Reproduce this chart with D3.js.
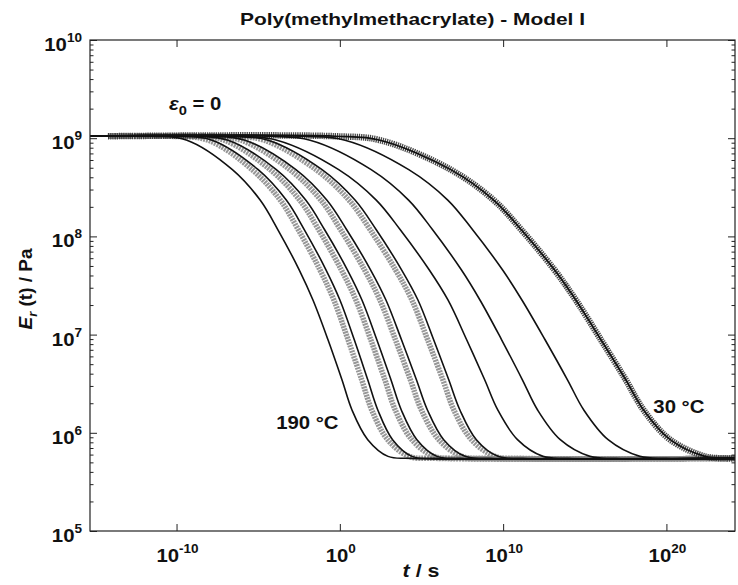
<!DOCTYPE html>
<html>
<head>
<meta charset="utf-8">
<script src="https://cdn.jsdelivr.net/npm/d3@7"></script>
<style>
  body { margin: 0; background: #fff; }
  svg { display: block; font-family: "Liberation Sans", Arial, sans-serif; }
</style>
</head>
<body>
<svg id="chart" width="738" height="585"></svg>
<script>
// ---------------- DATA (log10 values) ----------------
const titleText = "Poly(methylmethacrylate) - Model I";
const xTickExps = [-10, 0, 10, 20];
const yTickExps = [5, 6, 7, 8, 9, 10];
const xDomainExp = [-15.3, 24.2];
const yDomainExp = [5, 10];

// log10(E / Pa) levels at which every curve was read
const levelsLogE = [9.02, 9.02, 8.98, 8.68, 8.37, 8.07, 7.66, 7.35, 6.95, 6.54, 6.23, 5.93, 5.76, 5.74, 5.74];

// model curves (solid black lines): log10(t / s) at the levels above
const line190 = [-15.3, -11.5, -9.36, -6.58, -4.88, -3.80, -2.49, -1.64, -0.73, 0.13, 0.75, 1.71, 2.95, 4.4, 24.2];
const line170 = [-15.3, -10.1, -7.83, -5.00, -3.28, -2.18, -0.85, 0.01, 0.88, 1.71, 2.33, 3.23, 4.42, 5.9, 24.2];
const line150 = [-15.3, -9.1, -6.85, -3.89, -2.09, -0.94, 0.46, 1.36, 2.26, 3.13, 3.77, 4.72, 5.95, 7.4, 24.2];
const line130 = [-15.3, -8.1, -5.81, -2.69, -0.80, 0.41, 1.88, 2.83, 3.77, 4.69, 5.37, 6.36, 7.67, 9.2, 24.2];
const line110 = [-15.3, -6.8, -4.40, -1.09, 0.93, 2.22, 3.78, 4.79, 5.74, 6.67, 7.36, 8.36, 9.69, 11.2, 24.2];
const line90  = [-15.3, -6.3, -3.85, -0.07, 2.23, 3.69, 5.47, 6.63, 7.76, 8.87, 9.68, 10.88, 12.44, 14.0, 24.2];
const line70  = [-15.3, -4.4, -1.82, 1.92, 4.21, 5.67, 7.44, 8.59, 9.90, 11.18, 12.12, 13.50, 15.32, 16.9, 24.2];
const line50  = [-15.3, -2.4, 0.32, 4.22, 6.61, 8.12, 9.96, 11.16, 12.56, 13.94, 14.95, 16.43, 18.38, 20.0, 24.2];
const line30  = [-15.3, -0.3, 2.46, 6.79, 9.42, 11.10, 13.14, 14.46, 15.98, 17.51, 18.61, 20.23, 22.36, 23.6, 24.2];

// measured data (markers): log10(t / s) at the levels above
const marks170 = [-14.2, -10.4, -8.07, -5.37, -3.65, -2.55, -1.22, -0.36, 0.50, 1.34, 1.96, 2.93, 4.24, 5.9, 24.2];
const marks150 = [-14.2, -9.4, -7.09, -4.26, -2.46, -1.30, 0.09, 0.99, 1.89, 2.76, 3.40, 4.41, 5.77, 7.4, 24.2];
const marks130 = [-14.2, -8.4, -6.05, -3.06, -1.16, 0.04, 1.51, 2.46, 3.40, 4.32, 5.00, 6.06, 7.48, 9.2, 24.2];
const marks110 = [-14.2, -7.0, -4.64, -1.46, 0.56, 1.85, 3.41, 4.42, 5.37, 6.31, 6.99, 8.06, 9.50, 11.2, 24.2];
const marks30  = [-14.2, -0.3, 2.46, 6.79, 9.42, 11.10, 13.14, 14.46, 15.98, 17.51, 18.61, 20.23, 22.36, 23.6, 24.2];

const annotations = [
  { label: "190 °C", logT: -3.9, logE: 6.04 },
  { label: "30 °C", logT: 19.2, logE: 6.20 }
];

// ---------------- CHART ----------------
const M = { left: 90, right: 735, top: 40, bottom: 531 };
const svg = d3.select("#chart");

const x = d3.scaleLog().domain(xDomainExp.map(e => Math.pow(10, e))).range([M.left, M.right]);
const y = d3.scaleLog().domain(yDomainExp.map(e => Math.pow(10, e))).range([M.bottom, M.top]);

svg.append("defs").append("clipPath").attr("id", "plotclip")
  .append("rect").attr("x", M.left).attr("y", M.top)
  .attr("width", M.right - M.left).attr("height", M.bottom - M.top);

const toPts = arr => arr.map((lt, i) => [Math.pow(10, lt), Math.pow(10, levelsLogE[i])]);
const lineGen = d3.line().x(d => x(d[0])).y(d => y(d[1])).curve(d3.curveCatmullRom.alpha(0.5));

const plot = svg.append("g").attr("clip-path", "url(#plotclip)");

// marker bands (dense open symbols)
const graySeries = [marks170, marks150, marks130, marks110];
graySeries.forEach(s => {
  plot.append("path").attr("d", lineGen(toPts(s)))
    .attr("fill", "none").attr("stroke", "#8c8c8c").attr("stroke-width", 5.5)
    .attr("stroke-dasharray", "2 0.9").attr("opacity", 0.9);
});
plot.append("path").attr("d", lineGen(toPts(marks30)))
  .attr("fill", "none").attr("stroke", "#333").attr("stroke-width", 6.5)
  .attr("stroke-dasharray", "1.3 0.9").attr("opacity", 0.9);

// model lines
const blackSeries = [line190, line170, line150, line130, line110, line90, line70, line50, line30];
blackSeries.forEach(s => {
  plot.append("path").attr("d", lineGen(toPts(s)))
    .attr("fill", "none").attr("stroke", "#111").attr("stroke-width", 1.6);
});

// axes
const majorX = xTickExps.map(e => Math.pow(10, e));
const majorY = yTickExps.map(e => Math.pow(10, e));
const minorY = [];
for (let e = yDomainExp[0]; e < yDomainExp[1]; e++) for (let k = 2; k <= 9; k++) minorY.push(k * Math.pow(10, e));

function styleAxis(g) {
  g.select(".domain").remove();
  g.selectAll(".tick line").attr("stroke", "#222").attr("stroke-width", 1);
  g.selectAll(".tick text").remove();
}
svg.append("g").attr("transform", `translate(0,${M.bottom})`)
  .call(d3.axisBottom(x).tickValues(majorX).tickSize(-7).tickFormat("")).call(styleAxis);
svg.append("g").attr("transform", `translate(0,${M.top})`)
  .call(d3.axisTop(x).tickValues(majorX).tickSize(-7).tickFormat("")).call(styleAxis);
svg.append("g").attr("transform", `translate(${M.left},0)`)
  .call(d3.axisLeft(y).tickValues(majorY).tickSize(-7).tickFormat("")).call(styleAxis);
svg.append("g").attr("transform", `translate(${M.left},0)`)
  .call(d3.axisLeft(y).tickValues(minorY).tickSize(-3.5).tickFormat("")).call(styleAxis);
svg.append("g").attr("transform", `translate(${M.right},0)`)
  .call(d3.axisRight(y).tickValues(majorY).tickSize(-7).tickFormat("")).call(styleAxis);
svg.append("g").attr("transform", `translate(${M.right},0)`)
  .call(d3.axisRight(y).tickValues(minorY).tickSize(-3.5).tickFormat("")).call(styleAxis);

svg.append("rect").attr("x", M.left).attr("y", M.top)
  .attr("width", M.right - M.left).attr("height", M.bottom - M.top)
  .attr("fill", "none").attr("stroke", "#222").attr("stroke-width", 1.2);

// tick labels 10^n
function powLabel(px, py, exp, anchor) {
  const t = svg.append("text")
    .attr("transform", `translate(${px},${py}) scale(1.13,1)`)
    .attr("text-anchor", anchor).attr("font-weight", "bold").attr("fill", "#111");
  t.append("tspan").attr("font-size", 18).text("10");
  t.append("tspan").attr("font-size", 12).attr("dy", -9).text(String(exp));
}
xTickExps.forEach(e => powLabel(x(Math.pow(10, e)) + 1, 562, e, "middle"));
yTickExps.forEach(e => powLabel(M.left - 8, y(Math.pow(10, e)) + 11, e, "end"));

// title
svg.append("text").attr("x", (M.left + M.right) / 2).attr("y", 25)
  .attr("text-anchor", "middle").attr("font-size", 17).attr("font-weight", "bold")
  .attr("textLength", 345).attr("lengthAdjust", "spacingAndGlyphs").attr("fill", "#111")
  .text(titleText);

// axis titles
const xl = svg.append("text").attr("transform", "translate(421,577) scale(1.13,1)")
  .attr("text-anchor", "middle").attr("font-size", 19).attr("font-weight", "bold").attr("fill", "#111");
xl.append("tspan").attr("font-style", "italic").text("t");
xl.append("tspan").text(" / s");

const yl = svg.append("text").attr("transform", "translate(32,289) rotate(-90)")
  .attr("text-anchor", "middle").attr("font-size", 19).attr("font-weight", "bold").attr("fill", "#111");
yl.append("tspan").attr("font-style", "italic").text("E");
yl.append("tspan").attr("font-style", "italic").attr("font-size", 13).attr("dy", 5).text("r");
yl.append("tspan").attr("dy", -5).text(" (t) / Pa");

// epsilon annotation
const ea = svg.append("text").attr("transform", "translate(169,110) scale(1.13,1)")
  .attr("font-size", 18).attr("font-weight", "bold").attr("fill", "#111");
ea.append("tspan").attr("font-style", "italic").text("ε");
ea.append("tspan").attr("font-size", 13).attr("dy", 5).text("0");
ea.append("tspan").attr("dy", -5).text(" = 0");

// temperature labels
annotations.forEach(a => {
  svg.append("text")
    .attr("transform", `translate(${x(Math.pow(10, a.logT))},${y(Math.pow(10, a.logE))}) scale(1.13,1)`)
    .attr("font-size", 18).attr("font-weight", "bold").attr("fill", "#111")
    .text(a.label);
});
</script>
</body>
</html>
